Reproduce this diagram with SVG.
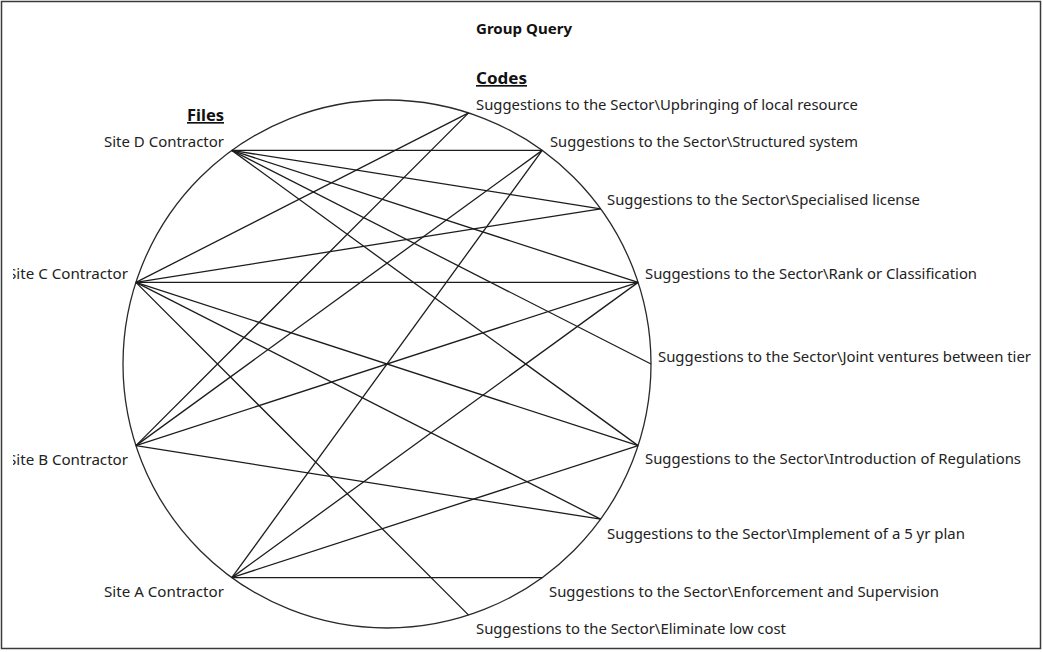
<svg xmlns="http://www.w3.org/2000/svg" width="1043" height="652" viewBox="0 0 1043 652">
  <style>
    .lbl { font-family: "Noto Sans", "Open Sans", sans-serif; font-size: 15px; fill: #222; }
    .hdr { font-family: "Noto Sans", "Open Sans", sans-serif; font-weight: bold; fill: #111; }
    .ul { text-decoration: underline; }
    .edge { stroke: #1c1c1c; stroke-width: 1.3; fill: none; }
    .ring { stroke: #2a2a2a; stroke-width: 1.3; fill: none; }
  </style>
  <defs>
    <clipPath id="viewArea">
      <rect x="13" y="0" width="1021" height="652"/>
    </clipPath>
  </defs>

  <rect x="0" y="0" width="1043" height="652" fill="#ffffff"/>
  <rect x="1.5" y="1.5" width="1039" height="647" fill="none" stroke="#3a3a3a" stroke-width="1.5"/>

  <g clip-path="url(#viewArea)">
    <text class="hdr" x="476" y="34" font-size="15" textLength="96" lengthAdjust="spacingAndGlyphs">Group Query</text>

    <!-- circular layout boundary -->
    <circle class="ring" cx="387" cy="364" r="264"/>

    <!-- connectors: file -> code -->
    <g id="connectors">
      <!-- Site D -->
      <line class="edge" x1="231.8" y1="150.4" x2="542.2" y2="150.4"/>
      <line class="edge" x1="231.8" y1="150.4" x2="600.6" y2="208.8"/>
      <line class="edge" x1="231.8" y1="150.4" x2="638.1" y2="282.4"/>
      <line class="edge" x1="231.8" y1="150.4" x2="651" y2="364"/>
      <line class="edge" x1="231.8" y1="150.4" x2="638.1" y2="445.6"/>
      <!-- Site C -->
      <line class="edge" x1="135.9" y1="282.4" x2="468.6" y2="112.9"/>
      <line class="edge" x1="135.9" y1="282.4" x2="600.6" y2="208.8"/>
      <line class="edge" x1="135.9" y1="282.4" x2="638.1" y2="282.4"/>
      <line class="edge" x1="135.9" y1="282.4" x2="638.1" y2="445.6"/>
      <line class="edge" x1="135.9" y1="282.4" x2="600.6" y2="519.2"/>
      <line class="edge" x1="135.9" y1="282.4" x2="468.6" y2="615.1"/>
      <!-- Site B -->
      <line class="edge" x1="135.9" y1="445.6" x2="468.6" y2="112.9"/>
      <line class="edge" x1="135.9" y1="445.6" x2="542.2" y2="150.4"/>
      <line class="edge" x1="135.9" y1="445.6" x2="638.1" y2="282.4"/>
      <line class="edge" x1="135.9" y1="445.6" x2="600.6" y2="519.2"/>
      <!-- Site A -->
      <line class="edge" x1="231.8" y1="577.6" x2="542.2" y2="150.4"/>
      <line class="edge" x1="231.8" y1="577.6" x2="638.1" y2="282.4"/>
      <line class="edge" x1="231.8" y1="577.6" x2="638.1" y2="445.6"/>
      <line class="edge" x1="231.8" y1="577.6" x2="542.2" y2="577.6"/>
    </g>

    <!-- file nodes -->
    <g id="files-header">
      <text class="hdr ul" x="187" y="121" font-size="16.5" textLength="37" lengthAdjust="spacingAndGlyphs">Files</text>
    </g>
    <g id="site-d">
      <text class="lbl" x="104" y="147" textLength="120" lengthAdjust="spacingAndGlyphs">Site D Contractor</text>
    </g>
    <g id="site-c">
      <text class="lbl" x="8" y="279" textLength="120" lengthAdjust="spacingAndGlyphs">Site C Contractor</text>
    </g>
    <g id="site-b">
      <text class="lbl" x="8" y="465" textLength="120" lengthAdjust="spacingAndGlyphs">Site B Contractor</text>
    </g>
    <g id="site-a">
      <text class="lbl" x="104" y="597" textLength="120" lengthAdjust="spacingAndGlyphs">Site A Contractor</text>
    </g>

    <!-- code nodes -->
    <g id="codes-header">
      <text class="hdr ul" x="476" y="84" font-size="16.5" textLength="51" lengthAdjust="spacingAndGlyphs">Codes</text>
    </g>
    <g id="code-upbringing">
      <text class="lbl" x="476" y="110" textLength="382" lengthAdjust="spacingAndGlyphs">Suggestions to the Sector\Upbringing of local resource</text>
    </g>
    <g id="code-structured">
      <text class="lbl" x="550" y="147" textLength="308" lengthAdjust="spacingAndGlyphs">Suggestions to the Sector\Structured system</text>
    </g>
    <g id="code-specialised">
      <text class="lbl" x="607" y="205" textLength="313" lengthAdjust="spacingAndGlyphs">Suggestions to the Sector\Specialised license</text>
    </g>
    <g id="code-rank">
      <text class="lbl" x="645" y="279" textLength="332" lengthAdjust="spacingAndGlyphs">Suggestions to the Sector\Rank or Classification</text>
    </g>
    <g id="code-joint">
      <text class="lbl" x="658" y="362" textLength="373" lengthAdjust="spacingAndGlyphs">Suggestions to the Sector\Joint ventures between tier</text>
    </g>
    <g id="code-introduction">
      <text class="lbl" x="645" y="464" textLength="376" lengthAdjust="spacingAndGlyphs">Suggestions to the Sector\Introduction of Regulations</text>
    </g>
    <g id="code-implement">
      <text class="lbl" x="607" y="539" textLength="358" lengthAdjust="spacingAndGlyphs">Suggestions to the Sector\Implement of a 5 yr plan</text>
    </g>
    <g id="code-enforcement">
      <text class="lbl" x="549" y="597" textLength="390" lengthAdjust="spacingAndGlyphs">Suggestions to the Sector\Enforcement and Supervision</text>
    </g>
    <g id="code-eliminate">
      <text class="lbl" x="476" y="634" textLength="310" lengthAdjust="spacingAndGlyphs">Suggestions to the Sector\Eliminate low cost</text>
    </g>
  </g>
</svg>
